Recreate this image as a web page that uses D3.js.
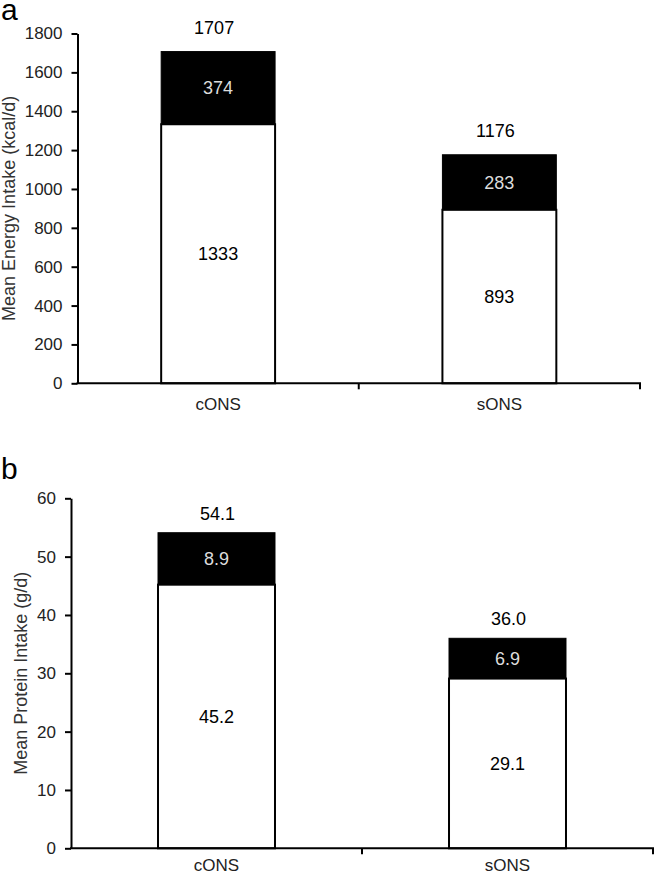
<!DOCTYPE html>
<html>
<head>
<meta charset="utf-8">
<script src="https://cdn.jsdelivr.net/npm/d3@7"></script>
<style>
  html, body { margin: 0; padding: 0; background: #fff; }
  svg { display: block; }
  text { font-family: "Liberation Sans", Arial, sans-serif; }
</style>
</head>
<body>
<svg id="chart" width="655" height="875"></svg>
<script>
// ---- data ----
const categories = ["cONS", "sONS"];
const energyBase = [1333, 893];
const energyONS = [374, 283];
const energyTotal = [1707, 1176];
const energyTicks = [0, 200, 400, 600, 800, 1000, 1200, 1400, 1600, 1800];
const proteinBase = [45.2, 29.1];
const proteinONS = [8.9, 6.9];
const proteinTotal = [54.1, 36.0];
const proteinTicks = [0, 10, 20, 30, 40, 50, 60];

const svg = d3.select("#chart");

function drawPanel(cfg) {
  const g = svg.append("g");
  const x = d3.scaleBand().domain(categories).range([cfg.x0, cfg.x1])
    .paddingInner(cfg.pad).paddingOuter(cfg.pad / 2);
  const y = d3.scaleLinear().domain([0, cfg.ticks[cfg.ticks.length - 1]]).range([cfg.yBottom, cfg.yTop]);

  // panel letter
  g.append("text").attr("x", 1).attr("y", cfg.letterY)
    .attr("font-size", 30).attr("fill", "#000").text(cfg.letter);

  // y axis
  const yAxis = d3.axisLeft(y).tickValues(cfg.ticks).tickSize(6).tickSizeOuter(0).tickPadding(9)
    .tickFormat(d3.format("d"));
  const ya = g.append("g").attr("transform", `translate(${cfg.x0},0)`).call(yAxis);
  ya.select(".domain").attr("stroke", "#000").attr("stroke-width", 2);
  ya.selectAll(".tick line").attr("stroke", "#000").attr("stroke-width", 2);
  ya.selectAll(".tick text").attr("font-size", 17).attr("fill", "#222")
    .style("font-family", "'Liberation Sans', Arial, sans-serif");

  // y title
  g.append("text")
    .attr("transform", `translate(${cfg.titleX},${(cfg.yTop + cfg.yBottom) / 2}) rotate(-90)`)
    .attr("text-anchor", "middle").attr("font-size", 18).attr("fill", "#333")
    .text(cfg.title);

  const idx = categories.map((c, i) => i);

  // white (base) segments
  g.selectAll("rect.base").data(idx).enter().append("rect")
    .attr("x", i => x(categories[i])).attr("width", x.bandwidth())
    .attr("y", i => y(cfg.base[i])).attr("height", i => y(0) - y(cfg.base[i]))
    .attr("fill", "#fff").attr("stroke", "#000").attr("stroke-width", 2);

  // black (ONS) segments
  g.selectAll("rect.ons").data(idx).enter().append("rect")
    .attr("x", i => x(categories[i])).attr("width", x.bandwidth())
    .attr("y", i => y(cfg.base[i] + cfg.ons[i])).attr("height", i => y(cfg.base[i]) - y(cfg.base[i] + cfg.ons[i]))
    .attr("fill", "#000").attr("stroke", "#000").attr("stroke-width", 1);

  // x axis line and boundary ticks
  g.append("line").attr("x1", cfg.x0 - 1).attr("x2", cfg.x1 + 1)
    .attr("y1", y(0)).attr("y2", y(0)).attr("stroke", "#000").attr("stroke-width", 2);
  const bounds = [cfg.x0, cfg.x0 + x.step(), cfg.x1];
  g.selectAll("line.bt").data(bounds.slice(1)).enter().append("line")
    .attr("x1", d => d).attr("x2", d => d).attr("y1", y(0)).attr("y2", y(0) + 6)
    .attr("stroke", "#000").attr("stroke-width", 2);

  // category labels
  g.selectAll("text.cat").data(idx).enter().append("text")
    .attr("x", i => x(categories[i]) + x.bandwidth() / 2).attr("y", y(0) + cfg.catGap)
    .attr("text-anchor", "middle").attr("font-size", 17).attr("fill", "#222")
    .text(i => categories[i]);

  // value labels
  g.selectAll("text.bv").data(idx).enter().append("text")
    .attr("x", i => x(categories[i]) + x.bandwidth() / 2)
    .attr("y", i => (y(0) + y(cfg.base[i])) / 2).attr("dy", "0.35em")
    .attr("text-anchor", "middle").attr("font-size", 18).attr("fill", "#000")
    .text(i => cfg.fmt(cfg.base[i]));
  g.selectAll("text.ov").data(idx).enter().append("text")
    .attr("x", i => x(categories[i]) + x.bandwidth() / 2)
    .attr("y", i => (y(cfg.base[i]) + y(cfg.base[i] + cfg.ons[i])) / 2).attr("dy", "0.35em")
    .attr("text-anchor", "middle").attr("font-size", 18).attr("fill", "#dcdcdc")
    .text(i => cfg.fmt(cfg.ons[i]));
  g.selectAll("text.tv").data(idx).enter().append("text")
    .attr("x", i => x(categories[i]) + x.bandwidth() / 2 + cfg.totalDx)
    .attr("y", i => y(cfg.total[i]) - cfg.totalGap)
    .attr("text-anchor", "middle").attr("font-size", 18).attr("fill", "#000")
    .text(i => cfg.fmt(cfg.total[i]));
}

drawPanel({
  letter: "a", letterY: 20,
  x0: 77.5, x1: 640, pad: 0.595, yTop: 33.5, yBottom: 383.3,
  ticks: energyTicks, base: energyBase, ons: energyONS, total: energyTotal,
  title: "Mean Energy Intake (kcal/d)", titleX: 15,
  fmt: d3.format("d"), totalGap: 18, totalDx: -4, catGap: 27
});
drawPanel({
  letter: "b", letterY: 479,
  x0: 71, x1: 653, pad: 0.598, yTop: 498.3, yBottom: 848.3,
  ticks: proteinTicks, base: proteinBase, ons: proteinONS, total: proteinTotal,
  title: "Mean Protein Intake (g/d)", titleX: 27,
  fmt: d => d.toFixed(1), totalGap: 13, totalDx: 1, catGap: 23
});
</script>
</body>
</html>
